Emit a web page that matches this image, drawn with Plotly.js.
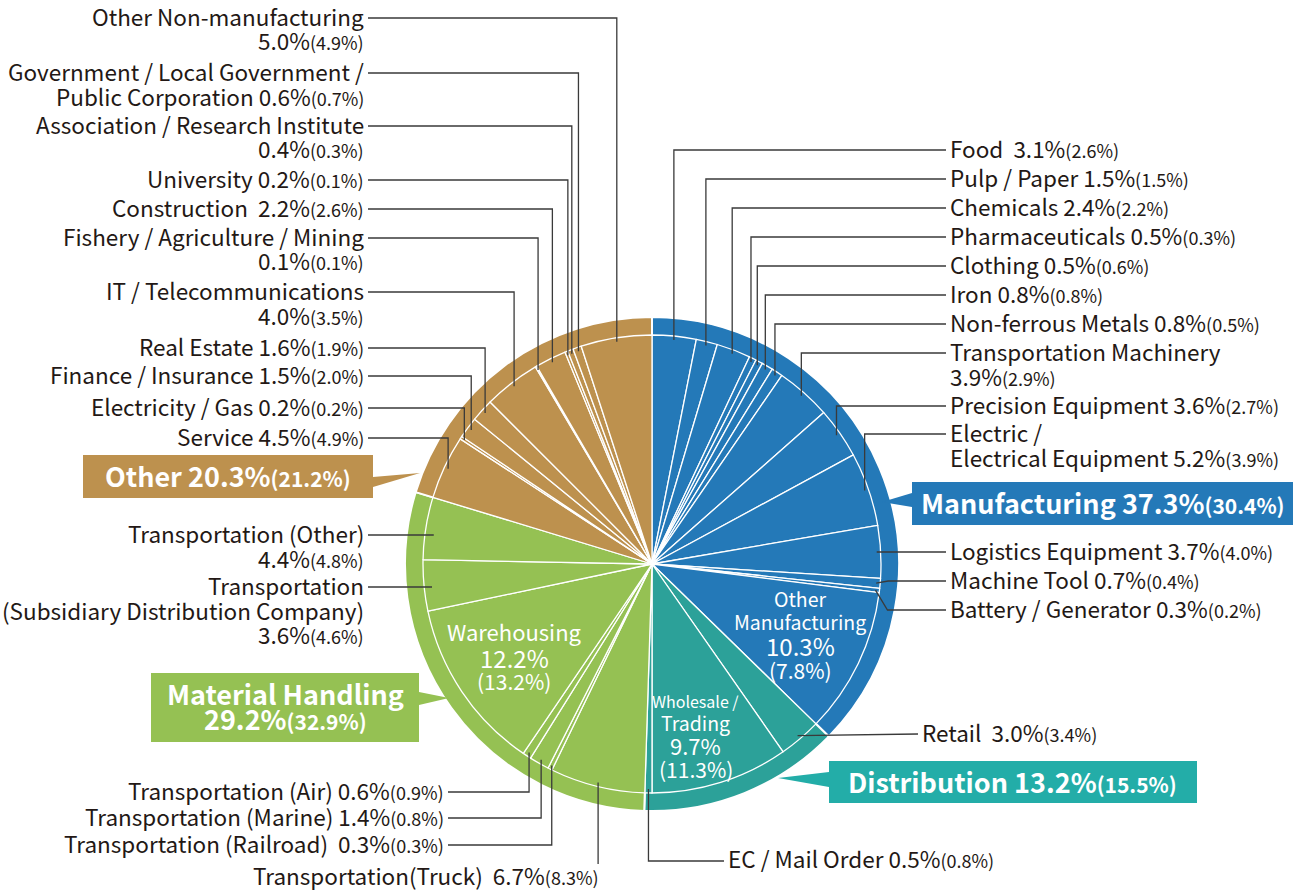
<!DOCTYPE html>
<html><head><meta charset="utf-8">
<script src="https://cdn.plot.ly/plotly-3.0.1.min.js"></script>
<style>html,body{margin:0;padding:0;background:#fff;}</style>
</head><body><div id="chart" style="width:1311px;height:891px;"></div>
<script>
// ---------------- DATA ----------------
const groupNames = ['Manufacturing','Distribution','Material Handling','Other'];
const groupValues = [37.3, 13.2, 29.2, 20.3];
const groupPrev = [30.4, 15.5, 32.9, 21.2];

const sectorNames = [
 'Food\u00a0','Pulp / Paper','Chemicals','Pharmaceuticals','Clothing','Iron','Non-ferrous Metals',
 'Transportation Machinery','Precision Equipment','Electric /|Electrical Equipment','Logistics Equipment',
 'Machine Tool','Battery / Generator','Other|Manufacturing',
 'Retail\u00a0','Wholesale /|Trading','EC / Mail Order',
 'Transportation(Truck)\u00a0','Transportation (Railroad)\u00a0','Transportation (Marine)','Transportation (Air)',
 'Warehousing','Transportation|(Subsidiary Distribution Company)','Transportation (Other)',
 'Service','Electricity / Gas','Finance / Insurance','Real Estate','IT / Telecommunications',
 'Fishery / Agriculture / Mining','Construction\u00a0','University','Association / Research Institute',
 'Government / Local Government /|Public Corporation','Other Non-manufacturing'
];
const sectorValues = [3.1,1.5,2.4,0.5,0.5,0.8,0.8,3.9,3.6,5.2,3.7,0.7,0.3,10.3,
 3.0,9.7,0.5,
 6.7,0.3,1.4,0.6,12.2,3.6,4.4,
 4.5,0.2,1.5,1.6,4.0,0.1,2.2,0.2,0.4,0.6,5.0];
const sectorPrev = [2.6,1.5,2.2,0.3,0.6,0.8,0.5,2.9,2.7,3.9,4.0,0.4,0.2,7.8,
 3.4,11.3,0.8,
 8.3,0.3,0.8,0.9,13.2,4.6,4.8,
 4.9,0.2,2.0,1.9,3.5,0.1,2.6,0.1,0.3,0.7,4.9];
const sectorGroup = [0,0,0,0,0,0,0,0,0,0,0,0,0,0, 1,1,1, 2,2,2,2,2,2,2, 3,3,3,3,3,3,3,3,3,3,3];

// ---------------- STYLE / LAYOUT ----------------
const W = 1311, H = 891;
const CX = 652, CY = 564, R_OUT = 247, R_IN = 229, R_LEAD = 225;
const groupColors = ['#2479b8','#2ca199','#95c153','#bd914e'];
const boxColors = ['#2479b8','#23ada8','#95c153','#bd914e'];
const TXT = '#231815';
const FONT = 'Noto Sans CJK JP, Noto Sans, sans-serif';
const FS = 22.5, FS_SMALL = 18, LINE_GAP = 24.5, TEXT_DY = -2;
const LINE_COLOR = '#3a3a3a';

// placement of each sector's label (layout only)
const place = [
 {s:'R', y:150},{s:'R', y:179},{s:'R', y:208},{s:'R', y:237},{s:'R', y:266},{s:'R', y:295},{s:'R', y:324},
 {s:'R', y:353, nl:true},{s:'R', y:406},{s:'R', y:434},
 {s:'RH', y:552},{s:'RH', y:581},{s:'RH', y:610},
 {s:'IN', x:800, lines:[[19.5,600],[19.5,623],[24,647],[21,672]]},
 {s:'RT', y:734},
 {s:'IN', x:696, lines:[[16,703,'narrow'],[19.5,724],[22,747],[21,771]]},
 {s:'EC', y:860},
 {s:'TR', y:877},
 {s:'B', y:845},{s:'B', y:818},{s:'B', y:792},
 {s:'IN', x:514, lines:[[22,633],[24,659],[21,683]]},
 {s:'LH', y:587, nl:true},{s:'LH', y:535, nl:true},
 {s:'L', y:438},{s:'L', y:408},{s:'L', y:376},{s:'L', y:348},
 {s:'L', y:292, nl:true},{s:'L', y:238, nl:true},{s:'L', y:209},{s:'L', y:180},
 {s:'L', y:126, nl:true},{s:'L', y:73},{s:'L', y:18, nl:true}
];

const X = px => px / W;
const Y = py => 1 - py / H;
const pct = v => v.toFixed(1) + '%';

// pie geometry from data
const total = sectorValues.reduce((a,b)=>a+b,0);
let cum = 0;
const mids = sectorValues.map(v => { const m = (cum + v/2)/total; cum += v; return m; });
function ptAt(frac, r){ const t = frac*2*Math.PI; return [CX + r*Math.sin(t), CY - r*Math.cos(t)]; }

function dom(r){ return {x:[X(CX-r), X(CX+r)], y:[Y(CY+r), Y(CY-r)]}; }

const traces = [
 {type:'pie', values:groupValues, labels:groupNames, sort:false, direction:'clockwise', rotation:0,
  marker:{colors:groupColors, line:{color:'#ffffff', width:2}}, textinfo:'none', hoverinfo:'skip',
  domain:dom(R_OUT), showlegend:false},
 {type:'pie', values:sectorValues, labels:sectorNames.map(n=>n.replace('|',' ')), sort:false, direction:'clockwise', rotation:0,
  marker:{colors:sectorGroup.map(g=>groupColors[g]), line:{color:'#ffffff', width:1.3}}, textinfo:'none', hoverinfo:'skip',
  domain:dom(R_IN), showlegend:false}
];

const annotations = [];
const shapes = [];
function ann(text, x, y, anchor, size, color, family){
  annotations.push({text:text, x:X(x), y:Y(y + TEXT_DY), xref:'paper', yref:'paper', xanchor:anchor, yanchor:'middle',
    showarrow:false, font:{family:family||FONT, size:size||FS, color:color||TXT}, borderpad:0});
}
function path(pts, color, width){
  let d = pts.map((p,i)=>(i?'L':'M') + X(p[0]).toFixed(5) + ',' + Y(p[1]).toFixed(5)).join(' ');
  shapes.push({type:'path', path:d, xref:'paper', yref:'paper', line:{color:color||LINE_COLOR, width:width||1.3}});
}
function polygon(pts, fill){
  let d = pts.map((p,i)=>(i?'L':'M') + X(p[0]).toFixed(5) + ',' + Y(p[1]).toFixed(5)).join(' ') + ' Z';
  shapes.push({type:'path', path:d, xref:'paper', yref:'paper', fillcolor:fill, line:{width:0}});
}
const small = (p, fs) => '<span style="font-size:' + (fs||FS_SMALL) + 'px">(' + pct(p) + ')</span>';

sectorNames.forEach((name, i) => {
  const pl = place[i];
  const parts = name.split('|');
  const val = pct(sectorValues[i]), prevTxt = small(sectorPrev[i]);
  const P = ptAt(mids[i], R_LEAD);
  if (pl.s === 'IN') {
    const texts = parts.concat([val, '(' + pct(sectorPrev[i]) + ')']);
    pl.lines.forEach((ln, k) => {
      ann(texts[k], pl.x, ln[1], 'center', ln[0], '#ffffff',
          ln[2]==='narrow' ? 'Liberation Sans Narrow, Noto Sans CJK JP, sans-serif' : FONT);
    });
    return;
  }
  let lines;
  if (pl.nl) lines = parts.concat([val + prevTxt]);
  else { lines = parts.slice(); lines[lines.length-1] += ' ' + val + prevTxt; }

  let tx, anchor;
  if (pl.s === 'R' || pl.s === 'RH') { tx = 949; anchor = 'left'; }
  else if (pl.s === 'RT') { tx = 921; anchor = 'left'; }
  else if (pl.s === 'EC') { tx = 727; anchor = 'left'; }
  else if (pl.s === 'L' || pl.s === 'LH') { tx = 365; anchor = 'right'; }
  else if (pl.s === 'B') { tx = 445; anchor = 'right'; }
  else if (pl.s === 'TR') { tx = 600; anchor = 'right'; }
  lines.forEach((t, k) => ann(t, tx, pl.y + k*LINE_GAP, anchor));

  const ly = pl.y;
  if (pl.s === 'R') path([P, [P[0], ly], [946, ly]]);
  else if (pl.s === 'RH') path([P, [P[0]+12, ly], [946, ly]]);
  else if (pl.s === 'RT') path([P, [918, ly]]);
  else if (pl.s === 'EC') path([P, [P[0], 861], [724, 861]]);
  else if (pl.s === 'TR') path([P, [P[0], 864]]);
  else if (pl.s === 'B') path([[448, ly], [P[0], ly], P]);
  else if (pl.s === 'L') path([[368, ly], [P[0], ly], P]);
  else if (pl.s === 'LH') path([[368, ly], [P[0]+4, ly]]);
});

// group callout boxes (layout positions)
const boxes = [
 {g:0, x0:912, x1:1293, y0:482, y1:525, tri:[[912,493],[882,502],[912,507]]},
 {g:1, x0:829, x1:1197, y0:761, y1:803, tri:[[829,772],[778,778],[829,787]]},
 {g:2, x0:151, x1:419, y0:673, y1:742, tri:[[419,692],[449,698],[419,705]], two:true},
 {g:3, x0:83, x1:373, y0:455, y1:498, tri:[[373,477],[420,473],[373,487]]}
];
const BFS = 27, BFS_SMALL = 21;
boxes.forEach(b => {
  shapes.push({type:'rect', xref:'paper', yref:'paper', x0:X(b.x0), x1:X(b.x1), y0:Y(b.y1), y1:Y(b.y0),
    fillcolor:boxColors[b.g], line:{width:0}});
  polygon(b.tri, boxColors[b.g]);
  const cxb = (b.x0+b.x1)/2, cyb = (b.y0+b.y1)/2;
  const prev = '<span style="font-size:' + BFS_SMALL + 'px">(' + pct(groupPrev[b.g]) + ')</span>';
  if (b.two) {
    ann('<b>' + groupNames[b.g] + '</b>', cxb, cyb-12, 'center', BFS, '#ffffff');
    ann('<b>' + pct(groupValues[b.g]) + prev + '</b>', cxb, cyb+13, 'center', BFS, '#ffffff');
  } else {
    ann('<b>' + groupNames[b.g] + ' ' + pct(groupValues[b.g]) + prev + '</b>', cxb, cyb+1, 'center', BFS, '#ffffff');
  }
});

const layout = {
  width:W, height:H, margin:{l:0,r:0,t:0,b:0}, paper_bgcolor:'#ffffff', plot_bgcolor:'#ffffff',
  showlegend:false, annotations:annotations, shapes:shapes, font:{family:FONT}
};
Plotly.newPlot('chart', traces, layout, {displayModeBar:false, staticPlot:true});
</script>
</body></html>
